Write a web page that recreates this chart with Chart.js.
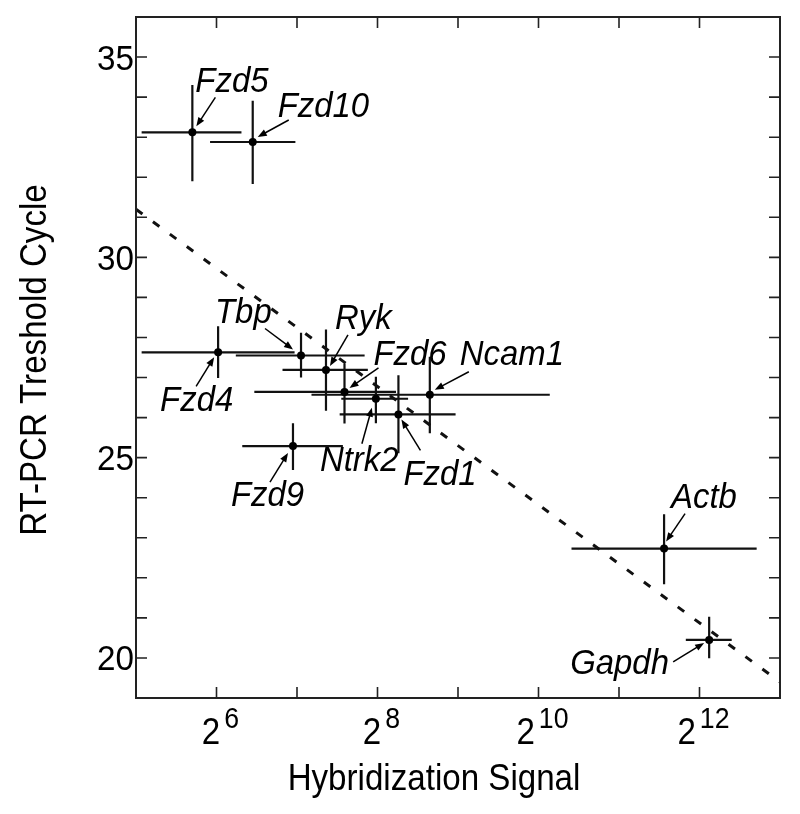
<!DOCTYPE html>
<html>
<head>
<meta charset="utf-8">
<script src="https://cdn.jsdelivr.net/npm/chart.js@4.4.0/dist/chart.umd.min.js"></script>
<style>
    html, body { margin: 0; padding: 0; background: #fff; }
    #wrap { width: 800px; height: 814px; }
</style>
</head>
<body>
<div id="wrap"><canvas id="chart" width="800" height="814"></canvas></div>
<script>
    // Genes and values (x in log2 units of hybridization signal)
    var genes      = ["Fzd5", "Fzd10", "Tbp", "Ryk", "Fzd4", "Fzd6", "Ncam1", "Ntrk2", "Fzd1", "Fzd9", "Actb", "Gapdh"];
    var signalLog2 = [5.70, 6.45, 7.05, 7.36, 6.02, 7.59, 8.65, 7.98, 8.26, 6.95, 11.56, 12.12];
    var signalLo   = [5.07, 5.92, 6.24, 6.82, 5.07, 6.47, 7.18, 7.55, 7.53, 6.32, 10.41, 11.83];
    var signalHi   = [6.31, 6.98, 7.84, 7.88, 6.97, 8.23, 10.14, 8.38, 8.97, 7.57, 12.71, 12.40];
    var ctValues   = [33.12, 32.88, 27.55, 27.19, 27.63, 26.64, 26.57, 26.47, 26.08, 25.29, 22.73, 20.45];
    var ctLo       = [31.90, 31.83, 27.00, 26.17, 26.99, 25.85, 25.61, 25.86, 25.11, 24.69, 21.84, 19.99];
    var ctHi       = [34.30, 33.91, 28.12, 28.20, 28.28, 27.35, 27.52, 27.02, 27.06, 25.86, 23.59, 21.03];

    // Regression line
    var trendX = [5, 13];
    var trendY = [31.2, 19.4];

    // Axis ticks
    var xTickExponents = [6, 8, 10, 12];
    var yTickLabels = [20, 25, 30, 35];

    // Label placement: text offset (left, baseline) and arrow start/end, in px from the point
    var labelPlacement = {
        "Fzd5":  { tx: 3,    ty: -40, ax: 23,  ay: -35, bx: 4,  by: -6 },
        "Fzd10": { tx: 25,   ty: -25, ax: 36,  ay: -22, bx: 5,  by: -5 },
        "Tbp":   { tx: -86,  ty: -32, ax: -36, ay: -27, bx: -8, by: -6 },
        "Ryk":   { tx: 9,    ty: -41, ax: 22,  ay: -35, bx: 4,  by: -4 },
        "Fzd4":  { tx: -58,  ty: 59,  ax: -22, ay: 34,  bx: -4, by: 5 },
        "Fzd6":  { tx: 29,   ty: -27, ax: 34,  ay: -24, bx: 5,  by: -4 },
        "Ncam1": { tx: 30,   ty: -30, ax: 39,  ay: -23, bx: 5,  by: -5 },
        "Ntrk2": { tx: -56,  ty: 72,  ax: -14, ay: 45,  bx: -4, by: 9 },
        "Fzd1":  { tx: 5,    ty: 71,  ax: 22,  ay: 36,  bx: 3,  by: 5 },
        "Fzd9":  { tx: -62,  ty: 60,  ax: -23, ay: 36,  bx: -5, by: 7 },
        "Actb":  { tx: 7,    ty: -41, ax: 21,  ay: -35, bx: 2,  by: -7 },
        "Gapdh": { tx: -139, ty: 34,  ax: -36, ay: 22,  bx: -5, by: 3 }
    };

    var FONT = "'Liberation Sans', Arial, sans-serif";

    var points = genes.map(function (g, i) {
        return { x: signalLog2[i], y: ctValues[i] };
    });
    var trend = trendX.map(function (x, i) {
        return { x: x, y: trendY[i] };
    });

    // text slightly narrowed, like the original figure font
    function sqText(ctx, txt, x, y, size, style, align, sx) {
        ctx.save();
        ctx.font = (style ? style + " " : "") + size + "px " + FONT;
        ctx.textAlign = align;
        ctx.translate(x, y);
        ctx.scale(sx, 1);
        ctx.fillText(txt, 0, 0);
        ctx.restore();
    }

    function arrow(ctx, x1, y1, x2, y2) {
        var ang = Math.atan2(y2 - y1, x2 - x1);
        var len = 9, w = 3.5;
        ctx.beginPath();
        ctx.moveTo(x1, y1);
        ctx.lineTo(x2 - Math.cos(ang) * len * 0.8, y2 - Math.sin(ang) * len * 0.8);
        ctx.stroke();
        ctx.beginPath();
        ctx.moveTo(x2, y2);
        ctx.lineTo(x2 - Math.cos(ang) * len - Math.sin(ang) * w, y2 - Math.sin(ang) * len + Math.cos(ang) * w);
        ctx.lineTo(x2 - Math.cos(ang) * len + Math.sin(ang) * w, y2 - Math.sin(ang) * len - Math.cos(ang) * w);
        ctx.closePath();
        ctx.fill();
    }

    // Error bars
    var errorBars = {
        id: "errorBars",
        beforeDatasetsDraw: function (chart) {
            var ctx = chart.ctx, xs = chart.scales.x, ys = chart.scales.y;
            ctx.save();
            ctx.strokeStyle = "#111";
            ctx.lineWidth = 2.2;
            genes.forEach(function (g, i) {
                var px = xs.getPixelForValue(signalLog2[i]);
                var py = ys.getPixelForValue(ctValues[i]);
                ctx.beginPath();
                ctx.moveTo(xs.getPixelForValue(signalLo[i]), py);
                ctx.lineTo(xs.getPixelForValue(signalHi[i]), py);
                ctx.moveTo(px, ys.getPixelForValue(ctLo[i]));
                ctx.lineTo(px, ys.getPixelForValue(ctHi[i]));
                ctx.stroke();
            });
            ctx.restore();
        }
    };

    // Frame, inward ticks, tick labels, titles, gene labels
    var decorations = {
        id: "decorations",
        afterDraw: function (chart) {
            var ctx = chart.ctx, xs = chart.scales.x, ys = chart.scales.y;
            var a = chart.chartArea, tl = 11;
            ctx.save();
            ctx.strokeStyle = "#222";
            ctx.lineWidth = 2;
            ctx.strokeRect(a.left, a.top, a.right - a.left, a.bottom - a.top);

            ctx.lineWidth = 1.6;
            ctx.beginPath();
            for (var v = Math.ceil(xs.min); v < xs.max; v++) {
                if (v === xs.min) continue;
                var px = xs.getPixelForValue(v);
                ctx.moveTo(px, a.bottom); ctx.lineTo(px, a.bottom - tl);
                ctx.moveTo(px, a.top); ctx.lineTo(px, a.top + tl);
            }
            for (var w = Math.ceil(ys.min); w < ys.max; w++) {
                if (w === ys.min) continue;
                var py = ys.getPixelForValue(w);
                ctx.moveTo(a.left, py); ctx.lineTo(a.left + tl, py);
                ctx.moveTo(a.right, py); ctx.lineTo(a.right - tl, py);
            }
            ctx.stroke();

            ctx.fillStyle = "#000";
            ctx.textBaseline = "alphabetic";
            // y tick labels
            yTickLabels.forEach(function (t) {
                sqText(ctx, String(t), a.left - 2, ys.getPixelForValue(t) + 12.5, 35, "", "right", 0.95);
            });

            // x tick labels as 2^n
            xTickExponents.forEach(function (e) {
                var px = xs.getPixelForValue(e);
                ctx.font = "36px " + FONT;
                var bw = ctx.measureText("2").width * 0.92;
                ctx.font = "29px " + FONT;
                var sw = ctx.measureText(String(e)).width * 0.92;
                var total = bw + 4 + sw;
                var x0 = px - total / 2 + 4;
                sqText(ctx, "2", x0, a.bottom + 46, 36, "", "left", 0.92);
                sqText(ctx, String(e), x0 + bw + 4, a.bottom + 30, 29, "", "left", 0.92);
            });

            // axis titles
            sqText(ctx, "Hybridization Signal", 434, a.bottom + 92, 36, "", "center", 0.92);
            ctx.save();
            ctx.translate(46, 360);
            ctx.rotate(-Math.PI / 2);
            sqText(ctx, "RT-PCR Treshold Cycle", 0, 0, 36, "", "center", 0.92);
            ctx.restore();

            // gene labels with arrows
            ctx.lineWidth = 1.5;
            ctx.strokeStyle = "#000";
            genes.forEach(function (g, i) {
                var p = labelPlacement[g];
                var px = xs.getPixelForValue(signalLog2[i]);
                var py = ys.getPixelForValue(ctValues[i]);
                sqText(ctx, g, px + p.tx, py + p.ty, 35, "italic", "left", 0.94);
                arrow(ctx, px + p.ax, py + p.ay, px + p.bx, py + p.by);
            });
            ctx.restore();
        }
    };

    var ctx1 = document.getElementById("chart").getContext("2d");
    var myChart1 = new Chart(ctx1, {
        type: "scatter",
        data: {
            datasets: [{
                type: "line",
                data: trend,
                borderColor: "#111",
                borderWidth: 3,
                borderDash: [8, 13],
                pointRadius: 0,
                fill: false
            }, {
                data: points,
                backgroundColor: "#000",
                borderWidth: 0,
                pointRadius: 4
            }]
        },
        options: {
            responsive: false,
            animation: false,
            layout: { padding: { top: 17, right: 20, left: 0, bottom: 0 } },
            plugins: {
                legend: { display: false },
                tooltip: { enabled: false }
            },
            scales: {
                x: {
                    type: "linear", min: 5, max: 13,
                    grid: { display: false },
                    border: { display: false },
                    ticks: { display: false },
                    afterFit: function (s) { s.height = 116; }
                },
                y: {
                    type: "linear", min: 19, max: 36,
                    grid: { display: false },
                    border: { display: false },
                    ticks: { display: false },
                    afterFit: function (s) { s.width = 136; }
                }
            }
        },
        plugins: [errorBars, decorations]
    });
</script>
</body>
</html>
